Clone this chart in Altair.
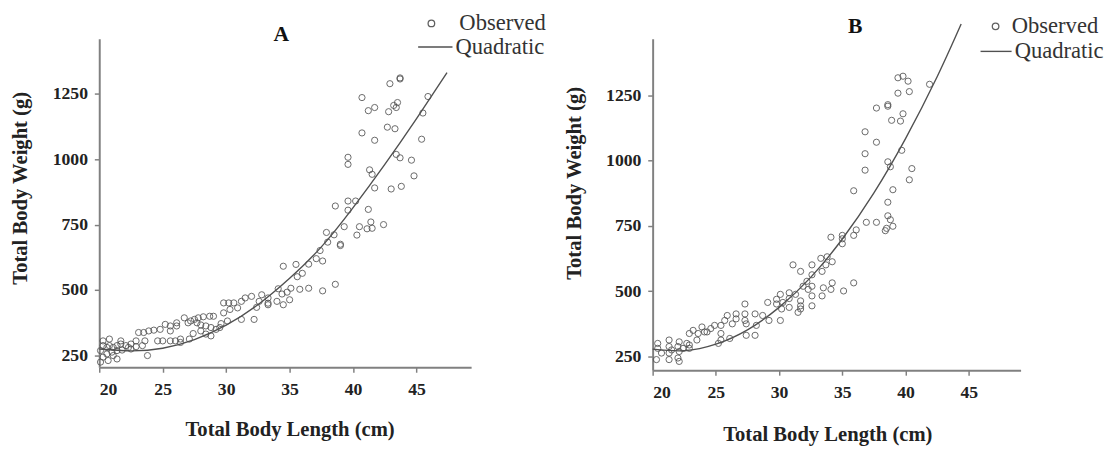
import altair as alt
import pandas as pd

# ---------------- Panel A ----------------
a_len = [42.9, 43.7, 43.7, 40.7, 43.5, 45.9, 41.7, 41.2, 42.8, 43.4, 43.2, 45.5, 40.7, 42.7, 43.3,
         41.7, 45.4, 39.6, 39.6, 43.4, 43.7, 44.6, 41.3, 41.5, 44.8, 41.7, 43.0, 43.8, 38.6, 39.6,
         40.2, 39.6, 41.2, 41.4, 41.5, 42.4, 40.5, 40.3, 41.1, 39.3, 37.9, 38.5, 39.0, 39.0, 38.0,
         37.4, 37.6, 37.1, 36.5, 35.5, 34.5, 36.0, 35.6, 38.6, 37.6, 36.5, 35.8, 35.1, 34.8, 34.1,
         34.4, 35.0, 34.5, 34.0, 33.3, 33.3, 33.3, 32.6, 32.4, 32.8, 32.0, 31.5, 31.2, 30.6, 30.2,
         29.8, 30.9, 30.3, 29.8, 31.2, 32.2, 30.1, 29.6, 29.5, 29.0, 28.7, 28.2, 27.8, 27.5, 27.2,
         27.0, 27.7, 28.0, 28.4, 28.8, 29.2, 28.4, 28.8, 28.0, 27.4, 26.7, 26.1, 26.1, 25.6, 25.2,
         24.8, 24.3, 25.6, 27.1, 26.4, 26.0, 25.6, 25.0, 24.6, 26.4, 23.9, 23.5, 23.1, 22.9, 23.6,
         22.5, 22.1, 21.7, 21.4, 21.1, 20.8, 20.6, 20.3, 20.1, 20.6, 21.1, 20.3, 20.7, 21.4, 20.1,
         23.8, 22.9, 23.4, 22.3, 21.8, 22.5, 20.3, 20.8, 21.7, 21.4, 21.0]
a_wt = [1288, 1310, 1306, 1235, 1216, 1239, 1197, 1185, 1181, 1197, 1205, 1176, 1100, 1122, 1116,
        1072, 1076, 1007, 980, 1018, 1005, 996, 959, 942, 936, 890, 886, 896, 821, 840,
        840, 805, 808, 760, 736, 750, 742, 710, 734, 742, 720, 711, 675, 670, 683,
        651, 611, 620, 599, 598, 591, 564, 551, 522, 497, 507, 503, 507, 492, 505,
        485, 463, 444, 457, 470, 444, 450, 457, 434, 482, 476, 470, 457, 451, 451,
        451, 432, 426, 413, 388, 388, 382, 372, 357, 400, 400, 398, 394, 388, 382,
        375, 375, 367, 363, 357, 350, 332, 325, 344, 334, 394, 363, 375, 363, 369,
        350, 347, 344, 313, 313, 306, 306, 306, 306, 300, 344, 338, 338, 306, 306,
        294, 288, 294, 288, 281, 288, 281, 288, 269, 256, 250, 244, 231, 237, 225,
        250, 284, 288, 281, 271, 275, 306, 313, 306, 269, 263]
a_fit_len = [20, 22.5, 25, 27.5, 30, 32.5, 35, 37.5, 40, 42.5, 45, 47.4]
a_fit_wt = [275, 268, 278, 311, 366, 444, 545, 665, 815, 980, 1155, 1330]

# ---------------- Panel B ----------------
b_len = [41.9, 39.4, 39.8, 40.2, 40.3, 39.4, 38.6, 38.6, 37.7, 39.8, 39.6, 38.9, 36.8, 37.7, 39.7,
         36.8, 36.8, 38.6, 38.8, 40.5, 40.3, 39.0, 35.9, 38.6, 38.6, 38.8, 39.0, 38.5, 38.4, 37.7,
         36.9, 36.1, 35.9, 35.0, 35.0, 35.0, 34.1, 34.2, 33.8, 33.7, 33.3, 33.4, 32.6, 32.2, 32.6,
         31.7, 31.1, 35.9, 35.1, 34.2, 34.1, 33.5, 33.4, 32.6, 32.6, 32.6, 31.9, 32.3, 31.7, 31.7,
         31.5, 31.7, 31.3, 30.8, 30.8, 30.3, 30.8, 30.1, 29.8, 29.8, 30.2, 30.1, 29.1, 29.2, 28.7,
         28.1, 28.2, 28.1, 27.4, 27.3, 27.3, 27.3, 27.4, 26.6, 26.6, 26.3, 25.9, 25.7, 25.4, 26.1,
         25.4, 25.2, 25.4, 24.9, 24.6, 24.3, 24.1, 23.6, 23.9, 23.2, 22.9, 23.5, 22.9, 22.7, 22.9,
         22.1, 22.0, 22.1, 22.0, 22.1, 21.3, 21.3, 21.3, 21.3, 20.4, 20.4, 20.3, 20.7, 21.5, 22.4]
b_wt = [1293, 1318, 1324, 1305, 1265, 1259, 1215, 1209, 1202, 1180, 1152, 1155, 1111, 1071, 1040,
        1027, 964, 996, 977, 970, 927, 889, 885, 841, 789, 774, 749, 741, 732, 764,
        764, 735, 714, 714, 701, 682, 707, 613, 632, 601, 626, 576, 601, 538, 563,
        576, 601, 532, 501, 532, 507, 513, 482, 482, 444, 519, 519, 507, 463, 444,
        419, 432, 488, 494, 472, 457, 438, 488, 451, 469, 432, 388, 457, 388, 407,
        413, 369, 331, 331, 451, 413, 388, 375, 413, 394, 375, 407, 388, 369, 319,
        313, 300, 338, 369, 357, 344, 344, 338, 363, 350, 338, 313, 294, 300, 281,
        306, 288, 269, 244, 231, 313, 288, 263, 238, 300, 281, 238, 263, 275, 281]
b_fit_len = [20, 22.5, 25, 27.5, 30, 32.5, 35, 37.5, 40, 42.5, 44.4]
b_fit_wt = [278, 272, 297, 352, 438, 553, 700, 877, 1085, 1322, 1524]

X_TICKS = [20, 25, 30, 35, 40, 45]
Y_TICKS = [250, 500, 750, 1000, 1250]

SERIF = "Liberation Serif"
GREY = "#505050"


def panel(lens, wts, flen, fwt, letter, xdom, ydom, w, h, xtitle_x, xtitle_y, ytitle_y,
          title_dx, title_dy, leg_x, leg_y, obs_offset, line_size):
    obs = pd.DataFrame({"len": lens, "wt": wts, "series": "Observed"})
    fit = pd.DataFrame({"len": flen, "wt": fwt, "series": "Quadratic"})
    x = alt.X("len:Q",
              scale=alt.Scale(domain=xdom, nice=False, zero=False),
              axis=alt.Axis(values=X_TICKS, title="Total Body Length (cm)", labelPadding=9,
                            titleX=xtitle_x, titleY=xtitle_y, titleBaseline="middle"))
    y = alt.Y("wt:Q",
              scale=alt.Scale(domain=ydom, nice=False, zero=False),
              axis=alt.Axis(values=Y_TICKS, format="d", title="Total Body Weight (g)",
                            titleY=ytitle_y))
    pts = alt.Chart(obs).mark_point(
        filled=False, size=40, strokeWidth=1, color=GREY, opacity=0.85
    ).encode(
        x=x, y=y,
        shape=alt.Shape("series:N", scale=alt.Scale(domain=["Observed"], range=["circle"]),
                        legend=alt.Legend(title=None, orient="none", legendX=leg_x[0], legendY=leg_y[0],
                                          symbolSize=45, symbolStrokeColor="#444", symbolStrokeWidth=1.3,
                                          symbolFillColor="transparent", labelOffset=obs_offset)),
    )
    line = alt.Chart(fit).mark_line(interpolate="natural", strokeWidth=1.4).encode(
        x=x, y=y,
        color=alt.Color("series:N", scale=alt.Scale(domain=["Quadratic"], range=[GREY]),
                        legend=alt.Legend(title=None, orient="none", legendX=leg_x[1], legendY=leg_y[1],
                                          symbolSize=line_size, symbolStrokeWidth=1.4, labelOffset=2)),
    )
    return alt.layer(pts, line).properties(
        width=w, height=h,
        title=alt.TitleParams(letter, font=SERIF, fontSize=22, fontWeight="bold", color="#111",
                              anchor="middle", dx=title_dx, dy=title_dy),
    ).resolve_scale(color="independent", shape="independent")


a = panel(a_len, a_wt, a_fit_len, a_fit_wt, "A", [20, 49.3], [205, 1460], 379, 335, 194, 63, 152,
          -4, 38, (327, 324), (-27, -10), 17, 1225)
b = panel(b_len, b_wt, b_fit_len, b_fit_wt, "B", [20, 49.1], [197, 1468], 375, 338, 178, 66, 147,
          19, 27, (338, 333), (-24, -4), 5, 1000)

chart = alt.hconcat(a, b, spacing=185, bounds="flush").resolve_scale(
    color="independent", shape="independent"
).resolve_legend(color="independent", shape="independent").properties(
    padding={"top": 0, "left": 2, "right": 0, "bottom": 0}, background="white"
).configure_view(stroke=None).configure_axis(
    domainColor="#808080", domainWidth=2, tickColor="#808080", tickWidth=1.5, tickSize=5,
    grid=False, labelFont=SERIF, labelFontSize=18, labelFontWeight="bold", labelColor="#222",
    titleFont=SERIF, titleFontSize=21, titleFontWeight="bold", titleColor="#222",
).configure_axisY(labelPadding=7, titlePadding=22).configure_legend(
    labelFont=SERIF, labelFontSize=23, labelColor="#333", padding=0, rowPadding=6
)

chart.save("out.html", embed_options={"renderer": "svg", "actions": False})
